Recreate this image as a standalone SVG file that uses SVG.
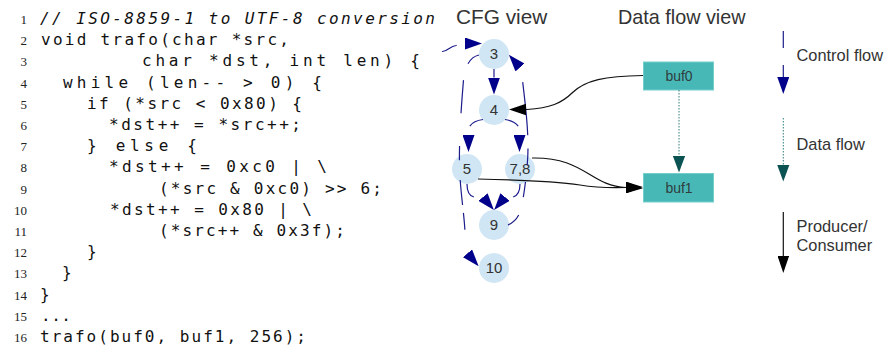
<svg xmlns="http://www.w3.org/2000/svg" width="886" height="346" viewBox="0 0 886 346">
  <defs>
    <style>
      .code{font-family:"DejaVu Sans Mono",monospace;font-size:16px;fill:#111}
      .cmt{font-style:italic}
      .ln{font-family:"Liberation Serif",serif;font-size:13px;fill:#222;text-anchor:end}
      .title{font-family:"Liberation Sans",Arial,sans-serif;fill:#333}
      .lbl{font-family:"Liberation Sans",Arial,sans-serif;font-size:16.4px;fill:#333}
      .node circle{fill:#d0e6f4}
      .node text{font-family:"Liberation Sans",Arial,sans-serif;font-size:15px;fill:#333;text-anchor:middle}
      .buf rect{fill:#48b8b7;stroke:#74cfcc;stroke-width:1}
      .buf text{font-family:"Liberation Sans",Arial,sans-serif;font-size:14px;fill:#2f3d3d;text-anchor:middle}
      .cf{fill:none;stroke:#1c1c8c;stroke-width:1.2}
      .df{fill:none;stroke:#2e7d7d;stroke-width:1;stroke-dasharray:1.5 1.5}
      .pc{fill:none;stroke:#111;stroke-width:1.2}
    </style>
    <marker id="ah-cf" markerUnits="userSpaceOnUse" viewBox="0 0 17 12" refX="0" refY="6" markerWidth="17" markerHeight="12" orient="auto">
      <path d="M0,0 L17,6 L0,12 z" fill="#00008b"/>
    </marker>
    <marker id="ah-df" markerUnits="userSpaceOnUse" viewBox="0 0 17 12.5" refX="0" refY="6.25" markerWidth="17" markerHeight="12.5" orient="auto">
      <path d="M0,0 L17,6.25 L0,12.5 z" fill="#0b5252"/>
    </marker>
    <marker id="ah-pc" markerUnits="userSpaceOnUse" viewBox="0 0 17 11.5" refX="0" refY="5.75" markerWidth="17" markerHeight="11.5" orient="auto">
      <path d="M0,0 L17,5.75 L0,11.5 z" fill="#000"/>
    </marker>
  </defs>

  <!-- source listing -->
  <g id="listing">
    <text class="ln" x="27" y="24">1</text>
    <text class="ln" x="27" y="45.2">2</text>
    <text class="ln" x="27" y="66.4">3</text>
    <text class="ln" x="27" y="87.6">4</text>
    <text class="ln" x="27" y="108.8">5</text>
    <text class="ln" x="27" y="130">6</text>
    <text class="ln" x="27" y="151.2">7</text>
    <text class="ln" x="27" y="172.4">8</text>
    <text class="ln" x="27" y="193.6">9</text>
    <text class="ln" x="27" y="214.8">10</text>
    <text class="ln" x="27" y="236">11</text>
    <text class="ln" x="27" y="257.2">12</text>
    <text class="ln" x="27" y="278.4">13</text>
    <text class="ln" x="27" y="299.6">14</text>
    <text class="ln" x="27" y="320.8">15</text>
    <text class="ln" x="27" y="342">16</text>

    <text class="code cmt" x="40" y="24" textLength="395" lengthAdjust="spacing">// ISO-8859-1 to UTF-8 conversion</text>
    <text class="code" x="41" y="45.2" textLength="248" lengthAdjust="spacing">void trafo(char *src,</text>
    <text class="code" x="142" y="66.4" textLength="278" lengthAdjust="spacing">char *dst, int len) {</text>
    <text class="code" x="63" y="87.6" textLength="259" lengthAdjust="spacing">while (len-- &gt; 0) {</text>
    <text class="code" x="87" y="108.8" textLength="215" lengthAdjust="spacing">if (*src &lt; 0x80) {</text>
    <text class="code" x="109" y="130" textLength="192" lengthAdjust="spacing">*dst++ = *src++;</text>
    <text class="code" x="87" y="151.2" textLength="110" lengthAdjust="spacing">} else {</text>
    <text class="code" x="109" y="172.4" textLength="218" lengthAdjust="spacing">*dst++ = 0xc0 | \</text>
    <text class="code" x="159" y="193.6" textLength="223" lengthAdjust="spacing">(*src &amp; 0xc0) &gt;&gt; 6;</text>
    <text class="code" x="110" y="214.8" textLength="202" lengthAdjust="spacing">*dst++ = 0x80 | \</text>
    <text class="code" x="159" y="236" textLength="186" lengthAdjust="spacing">(*src++ &amp; 0x3f);</text>
    <text class="code" x="87" y="257.2">}</text>
    <text class="code" x="62" y="278.4">}</text>
    <text class="code" x="40" y="299.6">}</text>
    <text class="code" x="41" y="320.8" textLength="30" lengthAdjust="spacing">...</text>
    <text class="code" x="40" y="342" textLength="266" lengthAdjust="spacing">trafo(buf0, buf1, 256);</text>
  </g>

  <!-- view titles -->
  <text class="title" x="456" y="24" font-size="20.8">CFG view</text>
  <text class="title" x="618" y="24" font-size="19.8">Data flow view</text>

  <!-- CFG nodes -->
  <g id="n3" class="node"><circle cx="494" cy="54" r="15"/><text x="494" y="59.4">3</text></g>
  <g id="n4" class="node"><circle cx="494" cy="110" r="15"/><text x="494" y="115.4">4</text></g>
  <g id="n5" class="node"><circle cx="467" cy="169" r="15"/><text x="467" y="174.4">5</text></g>
  <g id="n78" class="node"><circle cx="520" cy="169" r="15"/><text x="520" y="174.4">7,8</text></g>
  <g id="n9" class="node"><circle cx="494" cy="225" r="15"/><text x="494" y="230.4">9</text></g>
  <g id="n10" class="node"><circle cx="494" cy="268" r="15"/><text x="494" y="273.4">10</text></g>

  <!-- buffers -->
  <g id="buf0" class="buf"><rect x="643.5" y="62" width="70" height="28"/><text x="679" y="81">buf0</text></g>
  <g id="buf1" class="buf"><rect x="643.5" y="173.5" width="70" height="28.5"/><text x="679" y="192.5">buf1</text></g>

  <!-- connectors -->
  <g id="edges">
    <!-- control flow -->
    <path class="cf" d="M442,51.5 C447,52 450,46 456,45.5 C460,45 462,43.5 465,43.5" stroke-dasharray="16 60" marker-end="url(#ah-cf)"/>
    <path class="cf" d="M494,69 L494,77.5" marker-end="url(#ah-cf)"/>
    <path class="cf" d="M483,119.5 C475,120.5 469.5,125 469,128 C468.6,131 468.5,133 468.5,135" stroke-dasharray="15 40" marker-end="url(#ah-cf)"/>
    <path class="cf" d="M505,119.5 C513,120.5 518.5,125 519,128 C519.4,131 519.5,133 519.5,135" stroke-dasharray="15 40" marker-end="url(#ah-cf)"/>
    <path class="cf" d="M467,184 C467,193 470,197 476,197.3 C479,197.4 480.5,194 483,197" stroke-dasharray="16 40" marker-end="url(#ah-cf)"/>
    <path class="cf" d="M520,184 C520,192 518,196 512,197.3 C509,197.4 507.5,194 505,197" stroke-dasharray="16 40" marker-end="url(#ah-cf)"/>
    <path class="cf" d="M479,55 C470,57 465,66 463.5,80 C461,110 459,140 459.5,165 C460,190 464,212 465,232 C465.5,241 463.5,247 465.5,251 L467.5,253.3" stroke-dasharray="14.5 17 33 33 14 20 25 8 17 300" marker-end="url(#ah-cf)"/>
    <path class="cf" d="M508,225 C515,222 520,216 522,205 C525,188 528,165 528,148 C528,120 524,95 522.5,80 C522,75 522,71 521.3,69 L520,67.5" stroke-dasharray="15 18.6 15.2 16.7 16.9 13 53.5 100" marker-end="url(#ah-cf)"/>

    <!-- producer / consumer -->
    <path class="pc" d="M643,75.5 C605,76 585,80 572,93 C562,103 550,108 527,109.5 L526,109.5" marker-end="url(#ah-pc)"/>
    <path class="pc" d="M532,158 C585,157 590,186 626,187.5" marker-end="url(#ah-pc)"/>
    <path class="pc" d="M478,179 C530,180 560,182 580,185 C595,187.5 610,188 626,187.5" marker-end="url(#ah-pc)"/>

    <!-- data flow -->
    <path class="df" d="M679,90 L679,155.5" marker-end="url(#ah-df)"/>
  </g>

  <!-- legend -->
  <g id="legend">
    <path class="cf" d="M783.3,31 L783.3,77" stroke-dasharray="17 17" marker-end="url(#ah-cf)"/>
    <text class="lbl" x="796.5" y="61">Control flow</text>
    <path class="df" d="M783.3,118 L783.3,164.5" marker-end="url(#ah-df)"/>
    <text class="lbl" x="796.5" y="150">Data flow</text>
    <path class="pc" d="M783.3,212 L783.3,256" marker-end="url(#ah-pc)"/>
    <text class="lbl" x="796.5" y="231.5">Producer/</text>
    <text class="lbl" x="796.5" y="250.5">Consumer</text>
  </g>
</svg>
